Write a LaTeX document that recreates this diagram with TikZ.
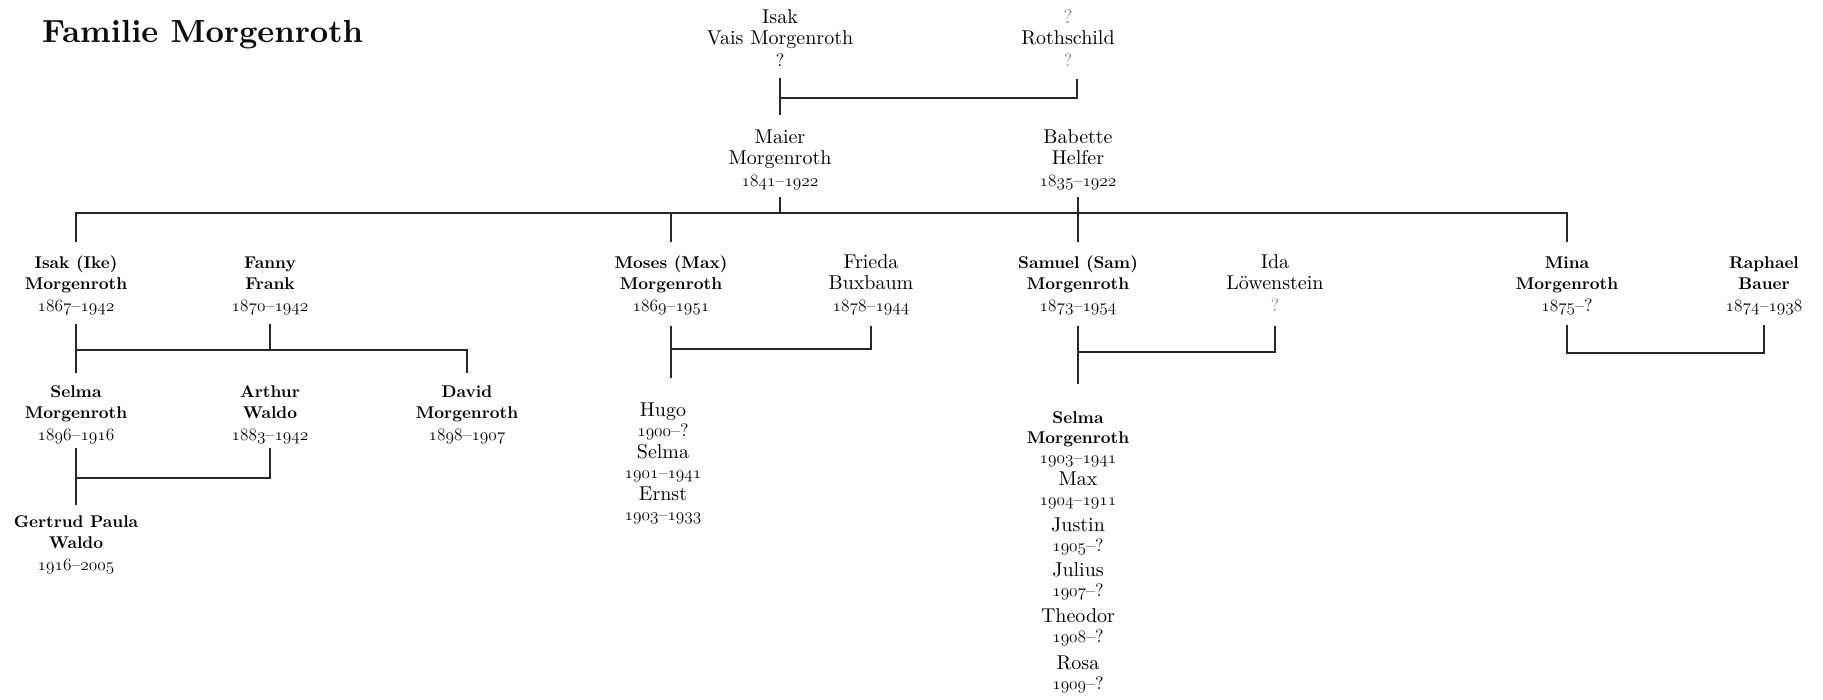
\documentclass[tikz,border=0pt]{standalone}
\usepackage{fontspec}
\setmainfont{lmroman10-regular.otf}[BoldFont=lmroman10-bold.otf, ItalicFont=lmroman10-italic.otf, Ligatures=TeX]
\newcommand\yr[1]{{\usefont{OML}{lmm}{m}{it}#1}}
\newcommand\dt[1]{{\normalfont\fontsize{18}{21.5}\selectfont #1\rule[-6pt]{0pt}{6pt}}}
\newcommand\fl{\rule{0pt}{14pt}}
\newcommand\bn[1]{{\fontsize{17}{21.5}\selectfont\bfseries #1}}
\newcommand\dd{\textendash}
\newcommand\fq{\textcolor{black!45}{?}}
\tikzset{
  pers/.style={align=center, inner sep=0pt, anchor=north, text=black,
    font=\fontsize{20}{21.5}\selectfont},
  bpers/.style={pers, font=\fontsize{17}{21.5}\selectfont\bfseries},
  kid/.style={pers, font=\fontsize{20}{20}\selectfont},
  conn/.style={line width=1.3pt, draw=black!85},
  titl/.style={anchor=base west, inner sep=0pt, text=black!95,
    font=\fontsize{32}{38}\selectfont\bfseries}
}
\begin{document}
\begin{tikzpicture}[x=1pt,y=-1pt]
\fill[white] (0,0) rectangle (1823,700);
\useasboundingbox (0,0) rectangle (1823,700);

\node[titl] (title) at (42,43) {Familie Morgenroth};

% generation 0
\node[pers] (isak) at (780,9) {\fl Isak\\Vais Morgenroth\\\dt{?}};
\node[pers] (roth) at (1068,9) {\fl\fq\\Rothschild\\\dt{\fq}};
% generation 1
\node[pers] (maier) at (780,129) {\fl Maier\\Morgenroth\\\dt{\yr{1841}\dd\yr{1922}}};
\node[pers] (babette) at (1078,129) {\fl Babette\\Helfer\\\dt{\yr{1835}\dd\yr{1922}}};
% generation 2
\node[bpers] (ike) at (76,254) {\fl Isak (Ike)\\Morgenroth\\\dt{\yr{1867}\dd\yr{1942}}};
\node[bpers] (fanny) at (270,254) {\fl Fanny\\Frank\\\dt{\yr{1870}\dd\yr{1942}}};
\node[bpers] (moses) at (671,254) {\fl Moses (Max)\\Morgenroth\\\dt{\yr{1869}\dd\yr{1951}}};
\node[pers] (frieda) at (871,254) {\fl Frieda\\Buxbaum\\\dt{\yr{1878}\dd\yr{1944}}};
\node[bpers] (samuel) at (1078,254) {\fl Samuel (Sam)\\Morgenroth\\\dt{\yr{1873}\dd\yr{1954}}};
\node[pers] (ida) at (1275,254) {\fl Ida\\Löwenstein\\\dt{\fq}};
\node[bpers] (mina) at (1567,254) {\fl Mina\\Morgenroth\\\dt{\yr{1875}\dd?}};
\node[bpers] (raphael) at (1764,254) {\fl Raphael\\Bauer\\\dt{\yr{1874}\dd\yr{1938}}};
% generation 3 (Isak)
\node[bpers] (selma1) at (76,383) {\fl Selma\\Morgenroth\\\dt{\yr{1896}\dd\yr{1916}}};
\node[bpers] (arthur) at (270,383) {\fl Arthur\\Waldo\\\dt{\yr{1883}\dd\yr{1942}}};
\node[bpers] (david) at (467,383) {\fl David\\Morgenroth\\\dt{\yr{1898}\dd\yr{1907}}};
\node[bpers] (gertrud) at (76,513) {\fl Gertrud Paula\\Waldo\\\dt{\yr{1916}\dd\yr{2005}}};
% children of Moses
\node[kid] (hugo) at (663,402) {\fl Hugo\\\dt{\yr{1900}\dd?}};
\node[kid] (selma2) at (663,444) {\fl Selma\\\dt{\yr{1901}\dd\yr{1941}}};
\node[kid] (ernst) at (663,486) {\fl Ernst\\\dt{\yr{1903}\dd\yr{1933}}};
% children of Samuel
\node[kid] (selma3) at (1078,409) {\fl\bn{Selma}\\\bn{Morgenroth}\\\dt{\yr{1903}\dd\yr{1941}}};
\node[kid] (max) at (1078,471) {\fl Max\\\dt{\yr{1904}\dd\yr{1911}}};
\node[kid] (justin) at (1078,517) {\fl Justin\\\dt{\yr{1905}\dd?}};
\node[kid] (julius) at (1078,562) {\fl Julius\\\dt{\yr{1907}\dd?}};
\node[kid] (theodor) at (1078,608) {\fl Theodor\\\dt{\yr{1908}\dd?}};
\node[kid] (rosa) at (1078,655) {\fl Rosa\\\dt{\yr{1909}\dd?}};

% level coordinates
\coordinate (y98) at (0,98);
\coordinate (y213) at (0,213);
\coordinate (y350) at (0,350);
\coordinate (y478) at (0,478);
\coordinate (y349) at (0,349);
\coordinate (y378) at (0,378);
\coordinate (y352) at (0,352);
\coordinate (y384) at (0,384);
\coordinate (y353) at (0,353);

% Isak + Rothschild
\draw[conn] ([yshift=-6pt]isak.south) -- ([yshift=14pt]maier.north);
\draw[conn] ([xshift=9pt,yshift=-7pt]roth.south) |- (isak.south |- y98);
% Maier + Babette
\draw[conn] ([yshift=-5pt]maier.south) -- (maier.south |- y213);
\draw[conn] ([yshift=12pt]ike.north) |- (mina.north |- y213) -- ([yshift=12pt]mina.north);
\draw[conn] (moses.north |- y213) -- ([yshift=12pt]moses.north);
\draw[conn] ([yshift=-5pt]babette.south) -- ([yshift=12pt]samuel.north);
% Isak (Ike) + Fanny
\draw[conn] ([yshift=-7pt]ike.south) -- ([yshift=10pt]selma1.north);
\draw[conn] ([yshift=-7pt]fanny.south) -- (fanny.south |- y350);
\draw[conn] (ike.south |- y350) -| ([yshift=10pt]david.north);
% Selma + Arthur
\draw[conn] ([yshift=-2pt]selma1.south) -- ([yshift=8pt]gertrud.north);
\draw[conn] ([yshift=-2pt]arthur.south) |- (selma1.south |- y478);
% Moses + Frieda
\draw[conn] ([yshift=-9pt]moses.south) -- (moses.south |- y378);
\draw[conn] ([yshift=-9pt]frieda.south) |- (moses.south |- y349);
% Samuel + Ida
\draw[conn] ([yshift=-9pt]samuel.south) -- (samuel.south |- y384);
\draw[conn] ([yshift=-9pt]ida.south) |- (samuel.south |- y352);
% Mina + Raphael
\draw[conn] ([yshift=-8pt]mina.south) |- (raphael.south |- y353) -- ([yshift=-8pt]raphael.south);
\end{tikzpicture}
\end{document}
